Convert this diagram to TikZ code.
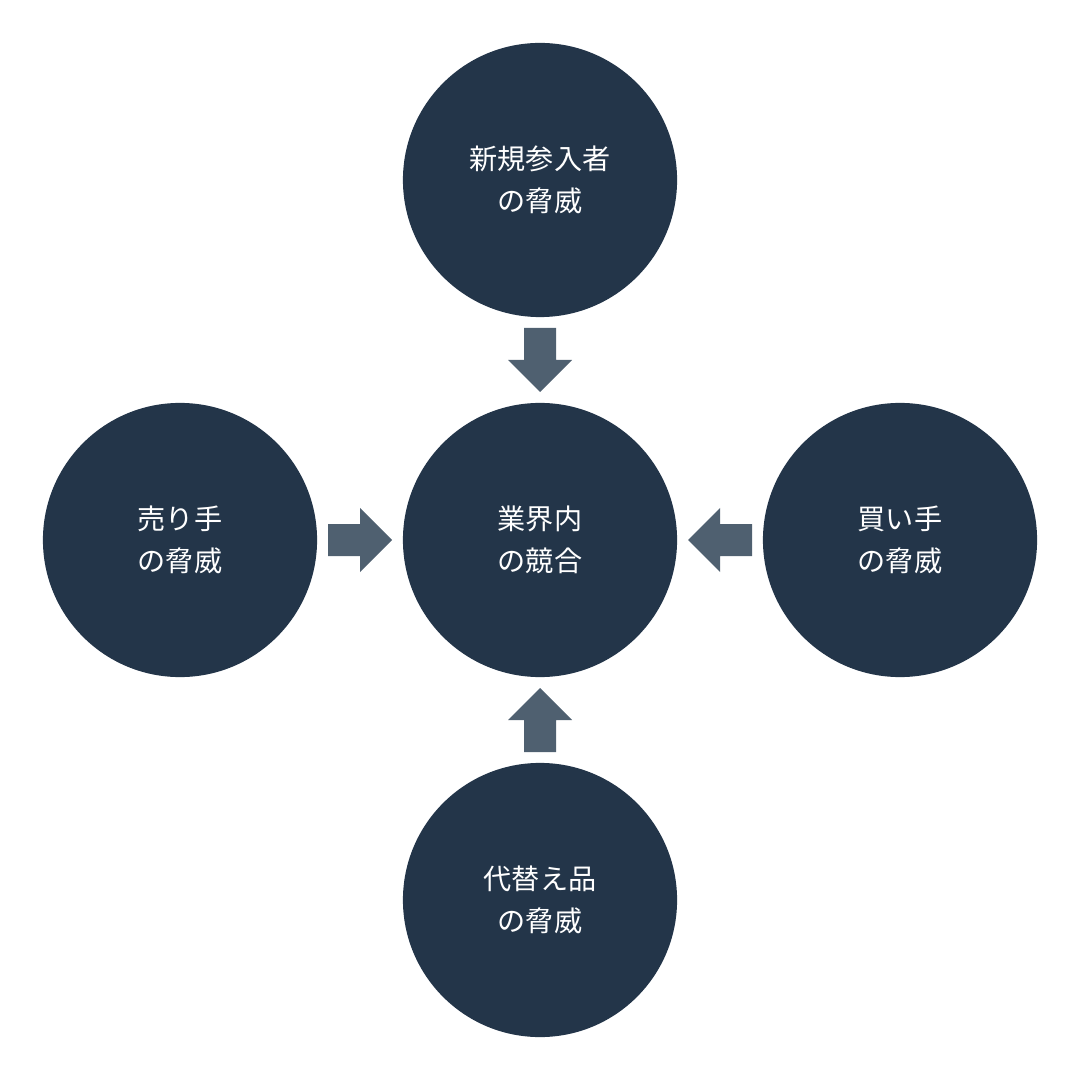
\documentclass[tikz,border=0pt]{standalone}
\usepackage{fontspec}
\newfontfamily\cjk{Noto Sans CJK JP}
\definecolor{circ}{HTML}{233549}
\definecolor{arr}{HTML}{4F6070}
\begin{document}
\begin{tikzpicture}[x=0.01cm,y=-0.01cm,
  force/.style={circle,fill=circ,minimum size=2.74cm,inner sep=0pt,text=white,align=center,font=\cjk\fontsize{8}{12}\selectfont},
  blk/.style={fill=arr}]
\useasboundingbox (0,0) rectangle (1080,1080);
\node[force] (top) at (540,180) {新規参入者\\の脅威};
\node[force] (left) at (180,540) {売り手\\の脅威};
\node[force] (mid) at (540,540) {業界内\\の競合};
\node[force] (right) at (900,540) {買い手\\の脅威};
\node[force] (bot) at (540,900) {代替え品\\の脅威};
% down arrow
\fill[blk] (524,328) -- (556,328) -- (556,360) -- (572,360) -- (540,392) -- (508,360) -- (524,360) -- cycle;
% up arrow
\fill[blk] (524,752) -- (556,752) -- (556,720) -- (572,720) -- (540,688) -- (508,720) -- (524,720) -- cycle;
% right arrow
\fill[blk] (328,524) -- (328,556) -- (360,556) -- (360,572) -- (392,540) -- (360,508) -- (360,524) -- cycle;
% left arrow
\fill[blk] (752,524) -- (752,556) -- (720,556) -- (720,572) -- (688,540) -- (720,508) -- (720,524) -- cycle;
\end{tikzpicture}
\end{document}
